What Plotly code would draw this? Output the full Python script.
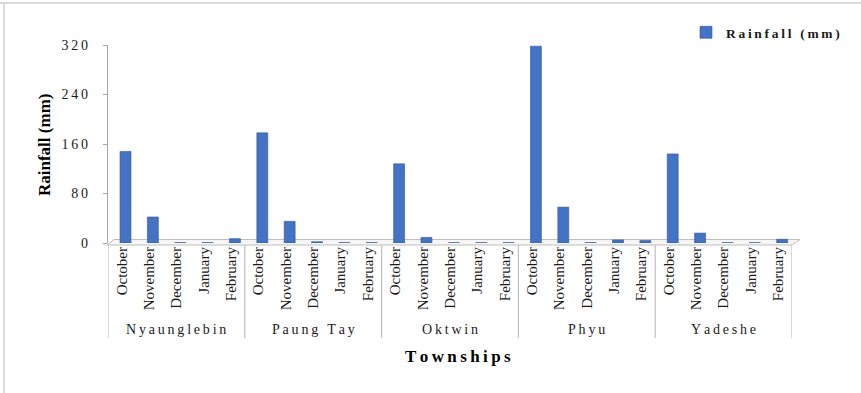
import plotly.graph_objects as go

# Monthly rainfall (mm) by township, October to February
townships = ["Nyaunglebin", "Paung Tay", "Oktwin", "Phyu", "Yadeshe"]
months = ["October", "November", "December", "January", "February"]
rainfall = {
    "Nyaunglebin": [148, 42, 0.6, 0.6, 7],
    "Paung Tay":   [178, 35, 2, 0.6, 0.6],
    "Oktwin":      [128, 9, 0.5, 0.5, 0.5],
    "Phyu":        [318, 58, 0.6, 5, 4],
    "Yadeshe":     [144, 16, 0.5, 0.5, 6],
}
y_ticks = [0, 80, 160, 240, 320]

SERIF = "Liberation Serif, Times New Roman, serif"
W, H = 861, 393
L, R, T, B = 108, 69, 45, 150


def spread(text, sep="\u2009"):
    """Open up letter spacing with thin spaces between characters."""
    return sep.join(text)


keys, vals, labels = [], [], []
for t in townships:
    for m, v in zip(months, rainfall[t]):
        keys.append(f"{t} {m}")
        vals.append(v)
        labels.append(m)

fig = go.Figure()
fig.add_trace(go.Bar(
    x=keys, y=vals, name=spread("Rainfall (mm)"),
    width=0.4, offset=-0.06,
    marker=dict(color="#4472C4", line=dict(color="#2F5597", width=0.6)),
))

n = len(keys)
px_x = lambda p: (p - L) / (W - L - R)
px_y = lambda p: (H - B - p) / (H - T - B)

shapes = []
# group dividers below the category axis
for i in range(len(townships) + 1):
    shapes.append(dict(type="line", xref="x", yref="paper",
                       x0=i * 5 - 0.5, x1=i * 5 - 0.5,
                       y0=px_y(245), y1=px_y(338),
                       line=dict(color="#BFBFBF", width=1.2)))
# floor of the plot
shapes.append(dict(type="path", xref="paper", yref="paper",
                   path=(f"M {px_x(107)} {px_y(245)} L {px_x(792)} {px_y(245)} "
                         f"L {px_x(800)} {px_y(239.5)} L {px_x(114)} {px_y(239.5)} Z"),
                   line=dict(color="#BFBFBF", width=1), fillcolor="rgba(240,240,240,0.6)",
                   layer="below"))
# outer frame lines
shapes.append(dict(type="line", xref="paper", yref="paper",
                   x0=px_x(0), x1=px_x(W), y0=px_y(3), y1=px_y(3),
                   line=dict(color="#D0D0D0", width=1.5)))
shapes.append(dict(type="line", xref="paper", yref="paper",
                   x0=px_x(4), x1=px_x(4), y0=px_y(3), y1=px_y(H),
                   line=dict(color="#D0D0D0", width=1.5)))

annotations = []
for i, t in enumerate(townships):
    annotations.append(dict(x=i * 5 + 2, y=px_y(329), xref="x", yref="paper",
                            text=spread(t), showarrow=False,
                            font=dict(family=SERIF, size=14, color="#1a1a1a"),
                            xanchor="center", yanchor="middle"))
annotations.append(dict(x=px_x(458), y=px_y(356), xref="paper", yref="paper",
                        text="<b>" + spread("Townships") + "</b>", showarrow=False,
                        font=dict(family=SERIF, size=17, color="black"),
                        xanchor="center", yanchor="middle"))
annotations.append(dict(x=px_x(44), y=px_y(145), xref="paper", yref="paper",
                        text="<b>Rainfall (mm)</b>", showarrow=False, textangle=-90,
                        font=dict(family=SERIF, size=17, color="black"),
                        xanchor="center", yanchor="middle"))

fig.update_layout(
    width=W, height=H,
    margin=dict(l=L, r=R, t=T, b=B),
    paper_bgcolor="white", plot_bgcolor="white",
    showlegend=True,
    legend=dict(x=px_x(686), y=px_y(17), xanchor="left", yanchor="top",
                font=dict(family=SERIF, size=13.5, color="#1a1a1a", weight="bold"),
                bgcolor="rgba(0,0,0,0)", itemwidth=30),
    shapes=shapes,
    annotations=annotations,
    bargap=0.6,
)
fig.update_xaxes(
    type="category", categoryorder="array", categoryarray=keys,
    tickvals=keys, ticktext=labels, tickangle=-90,
    tickfont=dict(family=SERIF, size=15, color="#1a1a1a"),
    ticks="", showline=False, showgrid=False, range=[-0.5, n - 0.5],
)
fig.update_yaxes(
    range=[0, 320], tickvals=y_ticks, ticktext=[spread(str(v)) for v in y_ticks],
    tickfont=dict(family=SERIF, size=14, color="#1a1a1a"),
    ticks="outside", ticklen=4, tickcolor="#A6A6A6",
    showline=True, linecolor="#A6A6A6", linewidth=1.2,
    showgrid=False, zeroline=False, ticklabelstandoff=12,
)

fig.write_html("out.html")
